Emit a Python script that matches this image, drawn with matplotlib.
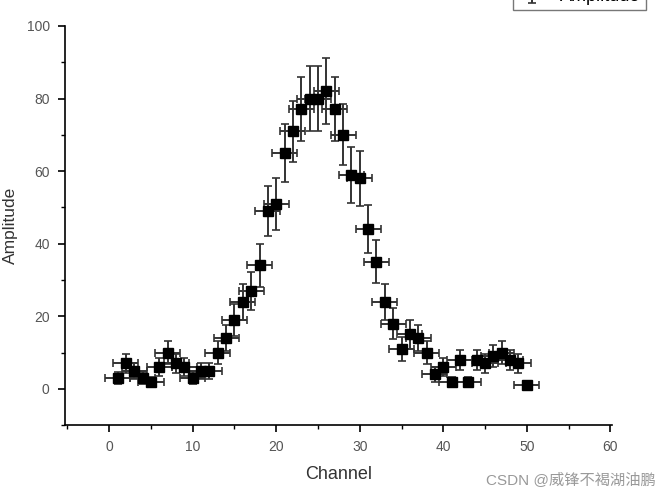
import matplotlib
matplotlib.use("Agg")
import matplotlib.pyplot as plt
from matplotlib.ticker import MultipleLocator

plt.rcParams['font.family'] = ['Liberation Sans', 'Noto Sans CJK SC', 'DejaVu Sans']

# channel number and amplitude
channel = list(range(1, 51))
amplitude = [3, 7, 5, 3, 2, 6, 10, 7, 6, 3,
             5, 5, 10, 14, 19, 24, 27, 34, 49, 51,
             65, 71, 77, 80, 80, 82, 77, 70, 59, 58,
             44, 35, 24, 18, 11, 15, 14, 10, 4, 6,
             2, 8, 2, 8, 7, 9, 10, 8, 7, 1]
# vertical error bars (half length)
amp_err = [1.7, 2.6, 2.2, 1.7, 1.4, 2.4, 3.2, 2.6, 2.4, 1.7,
           2.2, 2.2, 3.2, 3.7, 4.4, 4.9, 5.2, 5.8, 7.0, 7.1,
           8.1, 8.4, 8.8, 8.9, 8.9, 9.1, 8.8, 8.4, 7.7, 7.6,
           6.6, 5.9, 4.9, 4.2, 3.3, 3.9, 3.7, 3.2, 2.0, 2.4,
           1.4, 2.8, 1.4, 2.8, 2.6, 3.0, 3.2, 2.8, 2.6, 1.0]
# horizontal error bars (half width)
chan_err = [1.5] * 50

fig = plt.figure(figsize=(6.59, 4.99), dpi=100)
ax = fig.add_axes([0.0986, 0.148, 0.830, 0.800])

ax.errorbar(channel, amplitude, yerr=amp_err, xerr=chan_err, fmt='s',
            color='black', ecolor='#333333', elinewidth=1.4, capsize=3,
            capthick=1.2, markersize=7, label='Amplitude')

ax.set_xlim(-5.3, 60.2)
ax.set_ylim(-10, 100)
ax.xaxis.set_major_locator(MultipleLocator(10))
ax.xaxis.set_minor_locator(MultipleLocator(5))
ax.yaxis.set_major_locator(MultipleLocator(20))
ax.yaxis.set_minor_locator(MultipleLocator(10))
ax.set_yticks([0, 20, 40, 60, 80, 100])

for side in ['top', 'right']:
    ax.spines[side].set_visible(False)
for side in ['left', 'bottom']:
    ax.spines[side].set_linewidth(1.2)
ax.tick_params(which='major', direction='out', length=5, width=1.2,
               labelsize=10, labelcolor='#555555', pad=6)
ax.tick_params(which='minor', direction='out', length=3, width=1.0)

ax.set_xlabel('Channel', fontsize=13, color='#333333', labelpad=8)
ax.set_ylabel('Amplitude', fontsize=12.5, color='#333333', labelpad=6)

leg = ax.legend(loc='lower left', bbox_to_anchor=(0.765, 0.962),
                bbox_transform=fig.transFigure, fontsize=13, frameon=True,
                fancybox=False, edgecolor='#555555', markerscale=0.5,
                handlelength=1.5, borderpad=0.3)
leg.get_frame().set_linewidth(1.0)

fig.text(0.995, 0.022, 'CSDN @威锋不褐湖油鹏', ha='right', va='bottom',
         fontsize=11, color='#999999')

fig.savefig('out.png', dpi=100)
